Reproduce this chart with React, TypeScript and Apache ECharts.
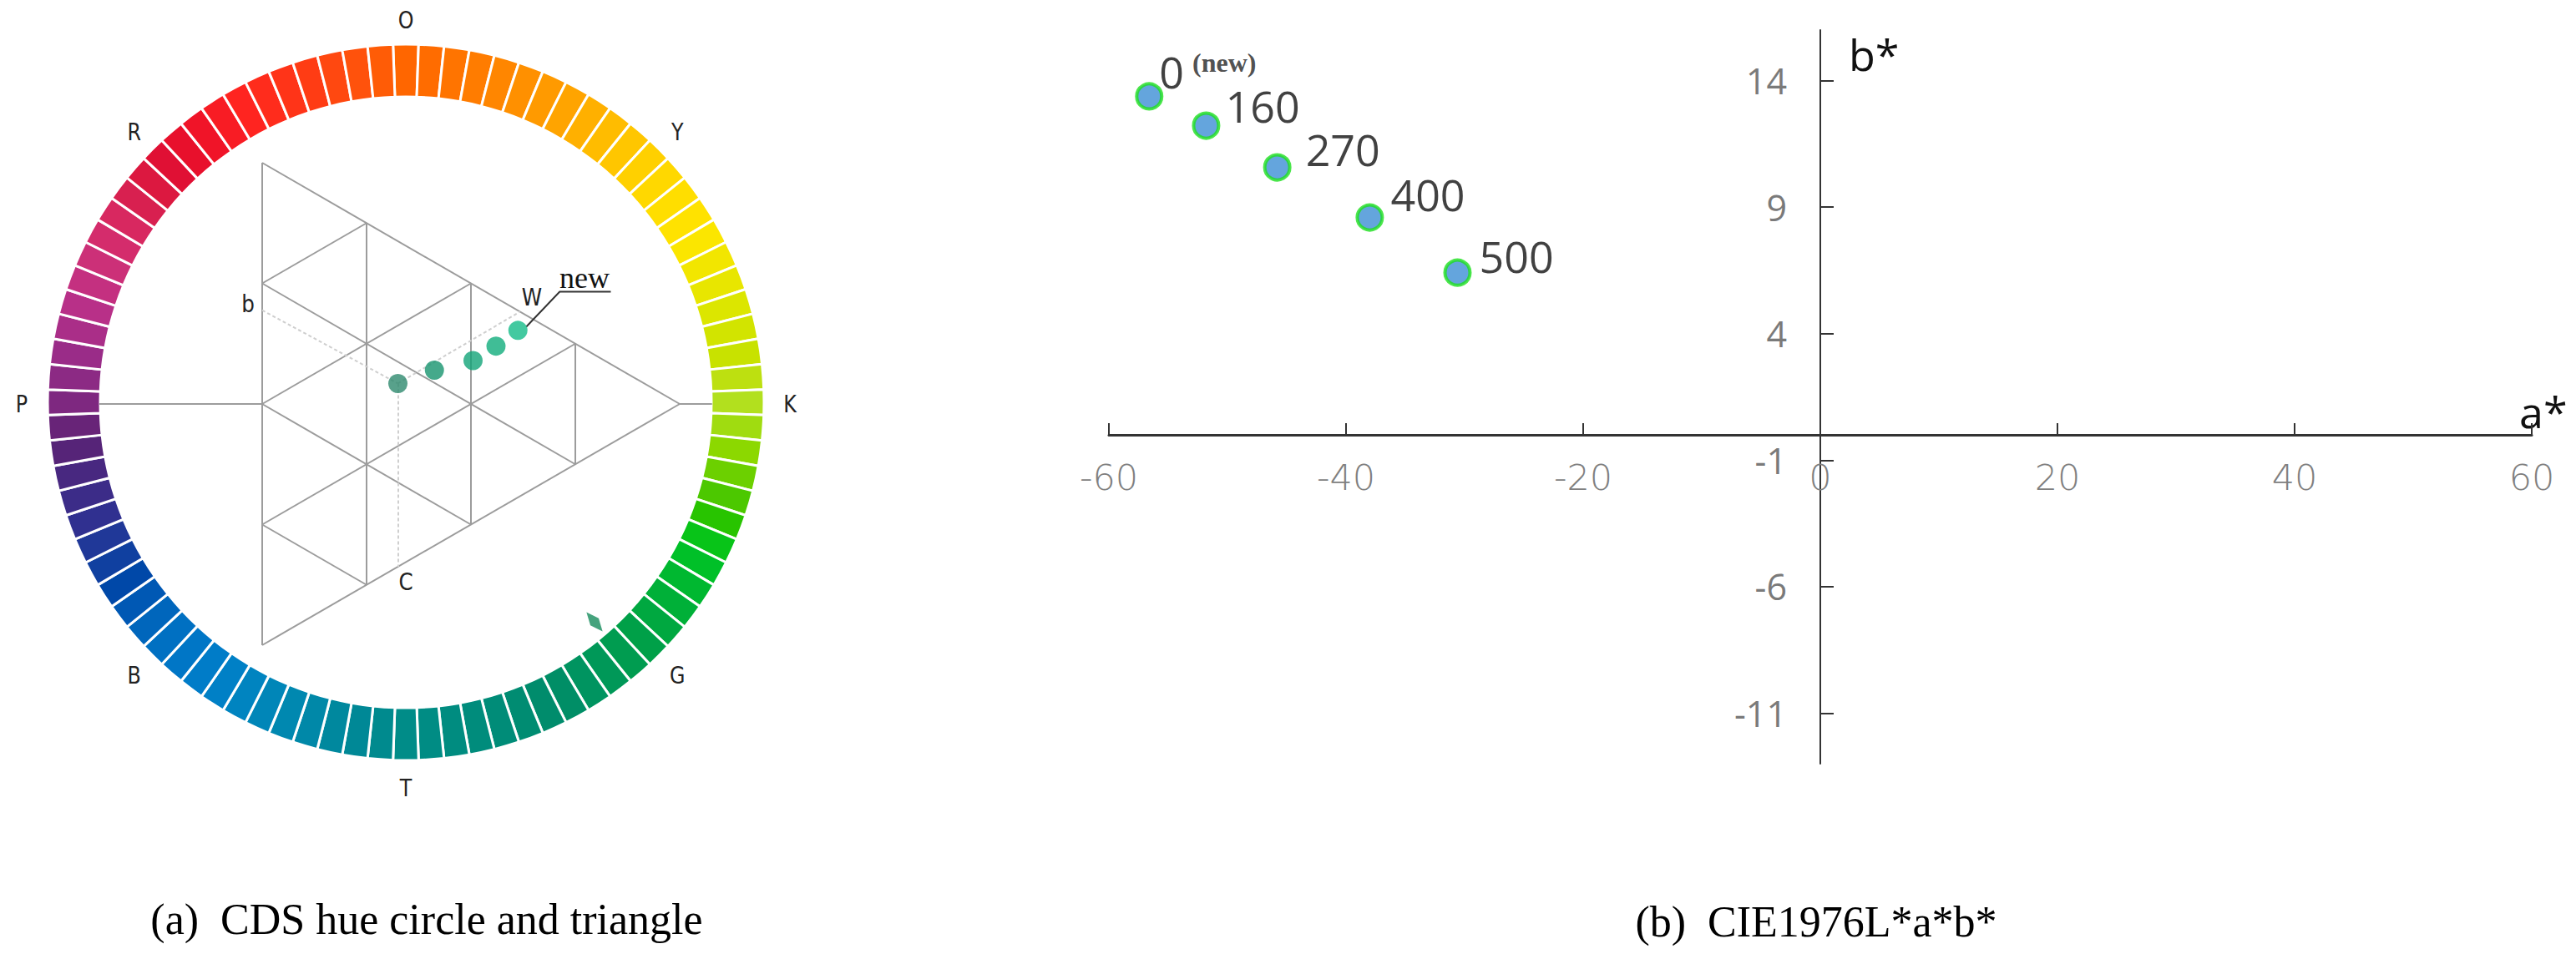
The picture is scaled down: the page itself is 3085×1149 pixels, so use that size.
import React, { useEffect, useRef } from 'react';
import * as echarts from 'echarts';

// ---------- Right panel (CIE1976 L*a*b*) data ----------
const pointLabels = ['0', '160', '270', '400', '500'];
const aValues = [-56.6, -51.8, -45.8, -38.0, -30.6];
const bValues = [13.38, 12.22, 10.57, 8.59, 6.41];
const xTickValues = [-60, -40, -20, 0, 20, 40, 60];
const yTickValues = [-11, -6, -1, 4, 9, 14];
const labelOffsets = [[-10, -30], [1, -24], [12, -22], [3, -28], [4, -20]];

// ---------- Left panel (CDS hue circle and triangle) ----------
const hueColors = [
  // O -> K (Y in the middle)
  '#ff6600', '#ff6c00', '#ff7400', '#ff7c00', '#ff8600', '#ff9000', '#ff9a00', '#ffa400', '#ffb000', '#ffbc00', '#ffc600',
  '#ffd000', '#ffd800', '#ffde00', '#ffe200', '#fbe600', '#f2e600', '#e8e600', '#dce600', '#d2e400', '#c8e200', '#bde010',
  // K -> T (G in the middle)
  '#b2e01e', '#a0dc10', '#8cd800', '#6cd000', '#4cc800', '#28c400', '#08c418', '#00c028', '#00b830', '#00b038', '#00a840',
  '#00a048', '#009c50', '#009858', '#009460', '#008e66', '#008c6c', '#008c72', '#008c78', '#008c7c', '#008c80', '#008c84',
  // T -> P (B in the middle)
  '#008c88', '#008a8e', '#008896', '#00889e', '#0088a8', '#0088b0', '#0086b8', '#0084c0', '#0080c6', '#007cc8', '#0076c6',
  '#0070c2', '#0066bc', '#0058b4', '#0048a8', '#1040a0', '#203898', '#303090', '#3c2c88', '#482880', '#562478', '#682478',
  // P -> O (R in the middle)
  '#7e2880', '#8c2a84', '#9a2c88', '#aa2e88', '#b83088', '#c43080', '#cc3078', '#d42c6c', '#d82860', '#d82050', '#dc1840',
  '#e01034', '#e8102c', '#f01428', '#f81c24', '#ff2420', '#ff2c1c', '#ff3418', '#ff3c14', '#ff4810', '#ff520c', '#ff5c06',
];
const hueLetters = ['O', 'Y', 'K', 'G', 'T', 'B', 'P', 'R'];

// samples in the CDS triangle (triangle units)
const cdsX = [1.30, 1.65, 2.02, 2.24, 2.45];
const cdsY = [0.17, 0.28, 0.36, 0.48, 0.61];
const cdsColors = ['#2e8a6e', '#17936e', '#12a478', '#10ac7c', '#14bc88'];

// triangle grid segments (triangle units)
const triSegments = [
  [[0, 2], [0, -2]], [[0, 2], [4, 0]], [[0, -2], [4, 0]],
  [[1, 1.5], [1, -1.5]], [[2, 1], [2, -1]], [[3, 0.5], [3, -0.5]],
  [[0, 1], [3, -0.5]], [[0, 0], [2, -1]], [[0, -1], [1, -1.5]],
  [[0, -1], [3, 0.5]], [[0, 0], [2, 1]], [[0, 1], [1, 1.5]],
  [[-1.56, 0], [0, 0]], [[4, 0], [4.31, 0]],
];
const guideSegments = [
  [[0, 0.777], [1.30, 0.17]],
  [[1.30, 0.17], [2.47, 0.765]],
  [[1.30, 0.17], [1.30, -1.35]],
];
const newLeader = [[2.53, 0.64], [2.85, 0.93], [3.34, 0.93]];
const gMarker = [[3.184, -1.806]];

// right grid geometry
const G_LEFT = 1328, G_RIGHT = 53, G_TOP = 36, G_BOTTOM = 234;
const X_MIN = -60, X_MAX = 60, Y_MIN = -13, Y_MAX = 16;

export default function App() {
  const ref = useRef<HTMLDivElement>(null);
  useEffect(() => {
    if (!ref.current) return;
    const chart = echarts.init(ref.current, undefined, { renderer: 'svg' });

    const cx = 486, cy = 484, rLab = 460;
    const letterTexts = hueLetters.map((t, i) => {
      const ang = (i * 45) * Math.PI / 180;
      return {
        type: 'text',
        x: cx + rLab * Math.sin(ang),
        y: cy - rLab * Math.cos(ang),
        scaleX: 0.85,
        style: {
          text: t, fill: '#222', fontSize: 28, fontFamily: 'DejaVu Sans',
          textAlign: 'center', verticalAlign: 'middle',
        },
      };
    });
    const smallText = (t: string, x: number, y: number) => ({
      type: 'text', x, y, scaleX: 0.85,
      style: { text: t, fill: '#222', fontSize: 29, fontFamily: 'DejaVu Sans', textAlign: 'center', verticalAlign: 'middle' },
    });

    // place the axes on the zero lines through offsets (axis offset is in px)
    const gw = 3085 - G_LEFT - G_RIGHT;
    const gh = 1149 - G_TOP - G_BOTTOM;
    const yAxisOffset = -gw * (0 - X_MIN) / (X_MAX - X_MIN);
    const xAxisOffset = -gh * (0 - Y_MIN) / (Y_MAX - Y_MIN);

    const option: any = {
      animation: false,
      backgroundColor: '#ffffff',
      grid: [
        { left: G_LEFT, right: G_RIGHT, top: G_TOP, bottom: G_BOTTOM, containLabel: false },
        { left: 114, top: 195, width: 750, height: 578, containLabel: false },
      ],
      xAxis: [
        {
          type: 'value', gridIndex: 0, min: X_MIN, max: X_MAX, interval: 20,
          position: 'bottom', offset: xAxisOffset,
          name: 'a*', nameLocation: 'end', nameGap: -15,
          nameTextStyle: { fontSize: 52, color: '#111', fontFamily: 'Open Sans', align: 'left', verticalAlign: 'bottom', padding: [0, 0, 2, 0] },
          axisLine: { show: true, onZero: false, lineStyle: { color: '#333', width: 3 } },
          axisTick: { show: true, inside: true, length: 14, lineStyle: { color: '#333', width: 2 } },
          axisLabel: { show: true, color: '#808080', fontSize: 43, fontFamily: 'DejaVu Sans', fontWeight: 'lighter', margin: 30, showMinLabel: true, showMaxLabel: true },
          splitLine: { show: false },
        },
        { type: 'value', gridIndex: 1, min: -1.6, max: 4.4, show: false },
      ],
      yAxis: [
        {
          type: 'value', gridIndex: 0, min: Y_MIN, max: Y_MAX,
          position: 'left', offset: yAxisOffset,
          name: 'b*', nameLocation: 'end', nameGap: -28,
          nameTextStyle: { fontSize: 52, color: '#111', fontFamily: 'Open Sans', align: 'left', verticalAlign: 'middle', padding: [0, 0, 0, 34] },
          axisLine: { show: true, onZero: false, lineStyle: { color: '#333', width: 2 } },
          axisTick: { show: true, inside: true, length: 16, customValues: yTickValues, lineStyle: { color: '#333', width: 2 } },
          axisLabel: { show: true, color: '#7a7a7a', fontSize: 43, fontFamily: 'Open Sans', margin: 40, customValues: yTickValues },
          splitLine: { show: false },
        },
        { type: 'value', gridIndex: 1, min: -2, max: 2, show: false },
      ],
      series: [
        {
          type: 'pie',
          center: [cx, 482],
          radius: [366, 429],
          startAngle: 90 + 180 / hueColors.length,
          clockwise: true,
          silent: true,
          label: { show: false },
          labelLine: { show: false },
          emphasis: { disabled: true },
          itemStyle: { borderColor: '#ffffff', borderWidth: 3 },
          data: hueColors.map((c) => ({ value: 1, itemStyle: { color: c } })),
          z: 1,
        },
        {
          type: 'lines', coordinateSystem: 'cartesian2d', xAxisIndex: 1, yAxisIndex: 1,
          silent: true,
          lineStyle: { color: '#9c9c9c', width: 2, opacity: 1 },
          data: triSegments.map((s) => ({ coords: s })),
          z: 2,
        },
        {
          type: 'lines', coordinateSystem: 'cartesian2d', xAxisIndex: 1, yAxisIndex: 1,
          silent: true,
          lineStyle: { color: '#cfcfcf', width: 2, type: [4, 3], opacity: 1 },
          data: guideSegments.map((s) => ({ coords: s })),
          z: 3,
        },
        {
          type: 'lines', coordinateSystem: 'cartesian2d', xAxisIndex: 1, yAxisIndex: 1,
          polyline: true, silent: true,
          lineStyle: { color: '#333', width: 2, opacity: 1 },
          data: [{ coords: newLeader }],
          z: 3,
        },
        {
          type: 'scatter', xAxisIndex: 1, yAxisIndex: 1,
          symbolSize: 23, silent: true,
          data: cdsX.map((x, i) => ({ value: [x, cdsY[i]], itemStyle: { color: cdsColors[i] } })),
          z: 4,
        },
        {
          type: 'scatter', xAxisIndex: 1, yAxisIndex: 1,
          symbol: 'diamond', symbolSize: [13, 30], symbolRotate: 40, silent: true,
          itemStyle: { color: '#178c5c' },
          data: gMarker,
          z: 4,
        },
        {
          type: 'scatter', xAxisIndex: 0, yAxisIndex: 0,
          symbol: 'circle', symbolSize: 30,
          itemStyle: { color: '#3d8fd4', borderColor: '#1ee01e', borderWidth: 4 },
          label: {
            show: true, position: 'right', distance: 5,
            fontSize: 52, fontFamily: 'Open Sans', color: '#111',
            formatter: (p: any) => (p.dataIndex === 0 ? '{z|' + pointLabels[0] + '}{n|(new)}' : pointLabels[p.dataIndex]),
            rich: {
              z: { fontSize: 52, fontFamily: 'Open Sans', color: '#111' },
              n: { fontSize: 32, fontFamily: 'Liberation Serif', fontWeight: 'bold', color: '#222', verticalAlign: 'top', padding: [0, 0, 0, 10] },
            },
          },
          data: aValues.map((a, i) => ({ value: [a, bValues[i]], label: { offset: labelOffsets[i] } })),
          z: 5,
        },
      ],
      graphic: [
        ...letterTexts,
        smallText('b', 297, 364),
        smallText('W', 637, 356),
        smallText('C', 486, 697),
        {
          type: 'text', x: 700, y: 333,
          style: { text: 'new', fill: '#111', fontSize: 36, fontFamily: 'Liberation Serif', textAlign: 'center', verticalAlign: 'middle' },
        },
        {
          type: 'text', x: 511, y: 1101,
          style: { text: '(a)  CDS hue circle and triangle', fill: '#000', fontSize: 52, fontFamily: 'Liberation Serif', textAlign: 'center', verticalAlign: 'middle' },
        },
        {
          type: 'text', x: 2175, y: 1104,
          style: { text: '(b)  CIE1976L*a*b*', fill: '#000', fontSize: 52, fontFamily: 'Liberation Serif', textAlign: 'center', verticalAlign: 'middle' },
        },
      ],
    };
    chart.setOption(option);
    return () => chart.dispose();
  }, []);
  return (
    <div
      ref={ref}
      style={{ position: 'fixed', left: 0, top: 0, width: 3085, height: 1149, background: '#fff' }}
    />
  );
}
